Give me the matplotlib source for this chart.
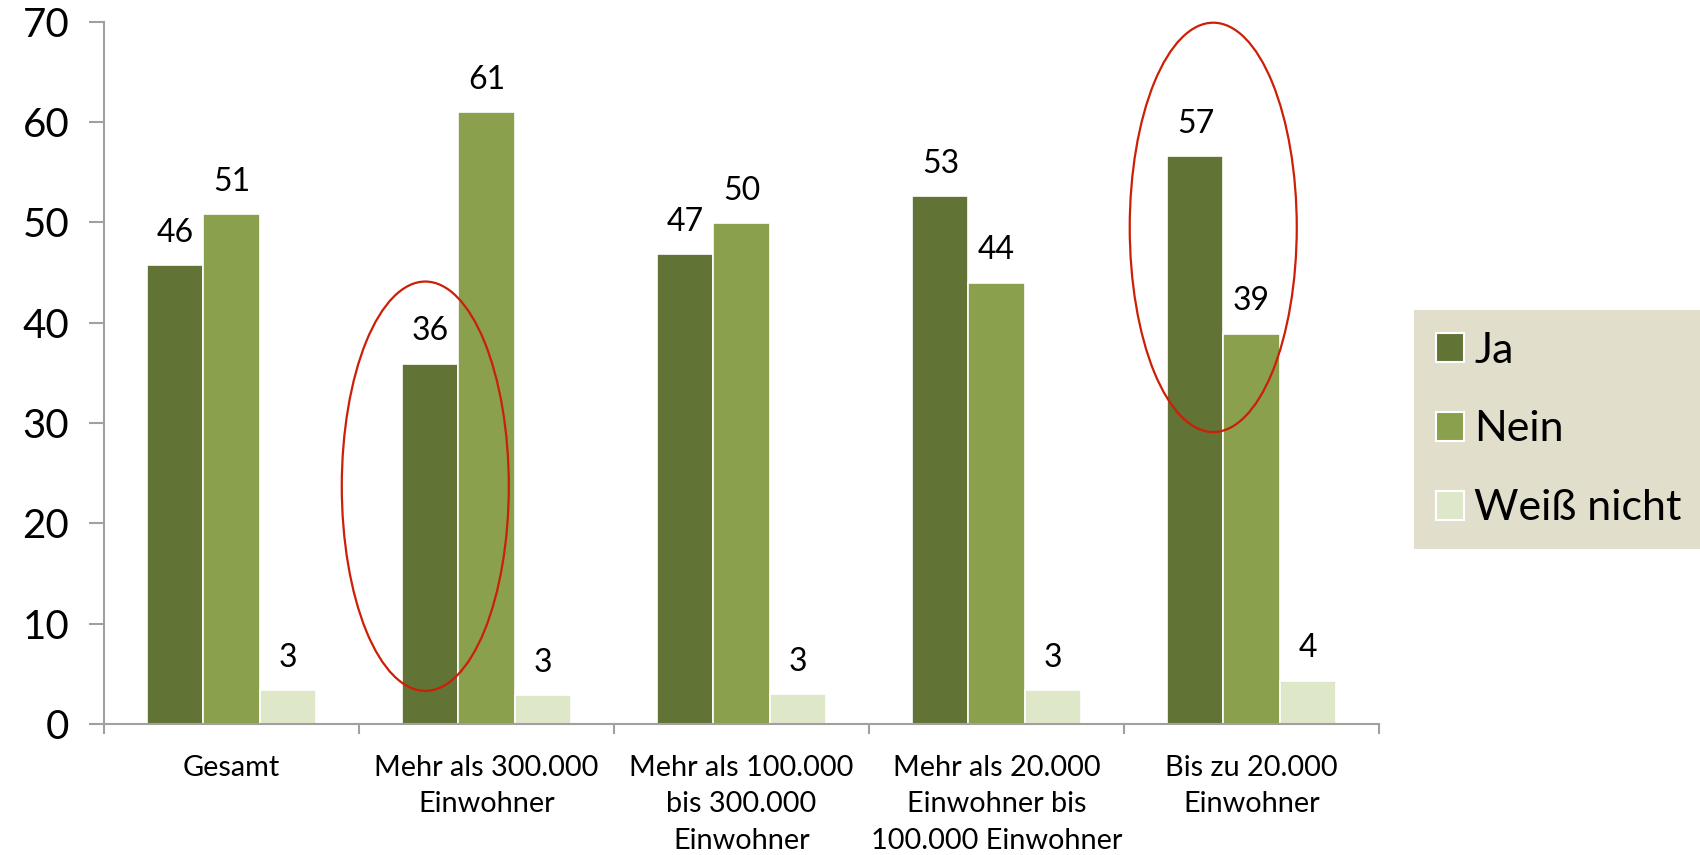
import matplotlib.pyplot as plt
from matplotlib.patches import Ellipse
import numpy as np

categories = ['Gesamt', 'Mehr als 300.000\nEinwohner', 'Mehr als 100.000\nbis 300.000\nEinwohner',
              'Mehr als 20.000\nEinwohner bis\n100.000 Einwohner', 'Bis zu 20.000\nEinwohner']
series = ['Ja', 'Nein', 'Weiß nicht']
ja = [45.7, 35.9, 46.8, 52.6, 56.6]
nein = [50.8, 61.0, 49.9, 44.0, 38.9]
weiss = [3.35, 2.9, 3.0, 3.35, 4.3]
colors = ['#617335', '#8aa04c', '#dfe7c9']

plt.rcParams['font.family'] = ['Lato', 'DejaVu Sans']

fig = plt.figure(figsize=(17, 8.55), dpi=100)
ax = fig.add_axes([104 / 1700, 1 - 724 / 855, (1379 - 104) / 1700, (724 - 21.7) / 855])

x = np.arange(len(categories))
w = 0.22
for i, (vals, name) in enumerate(zip([ja, nein, weiss], series)):
    bars = ax.bar(x + (i - 1) * w, vals, w, color=colors[i], edgecolor='white', linewidth=1.2, label=name)
    for b, v in zip(bars, vals):
        ax.annotate(f'{v:.0f}', (b.get_x() + b.get_width() / 2, v), xytext=(0, 12.5),
                    textcoords='offset points', ha='center', va='bottom', fontsize=23)

# red highlight ellipses
for cx, cy in [(1 - w - 0.02, 23.7), (4 - w + 0.07, 49.5)]:
    ax.add_patch(Ellipse((cx, cy), 0.655, 40.8, fill=False, edgecolor='#cc1f05', linewidth=1.6,
                         clip_on=False, zorder=5))

ax.set_xlim(-0.5, 4.5)
ax.set_ylim(0, 70)
ax.set_yticks(range(0, 71, 10))
ax.tick_params(axis='y', labelsize=29, length=11, width=1.5, color='#a0a0a0', pad=14)
ax.set_xticks(np.arange(-0.5, 5, 1))
ax.set_xticklabels([])
ax.tick_params(axis='x', length=7, width=1.5, color='#a0a0a0')
ax.set_xticks(x, minor=True)
ax.set_xticklabels(categories, minor=True, fontsize=20.8, linespacing=1.5)
ax.tick_params(axis='x', which='minor', length=0, pad=22)
for s in ['top', 'right']:
    ax.spines[s].set_visible(False)
for s in ['left', 'bottom']:
    ax.spines[s].set_color('#a0a0a0')
    ax.spines[s].set_linewidth(1.5)

leg = fig.legend(loc='upper left', bbox_to_anchor=(1414 / 1700, 1 - 310 / 855), borderaxespad=0,
                 fontsize=31, frameon=True, fancybox=False, facecolor='#e1dfcc', edgecolor='none',
                 framealpha=1, handlelength=0.65, handleheight=0.65, handletextpad=0.25,
                 labelspacing=0.95, borderpad=0.5)
for h in leg.legend_handles:
    h.set_edgecolor('white')
    h.set_linewidth(1.5)

fig.savefig('out.png', dpi=100)
